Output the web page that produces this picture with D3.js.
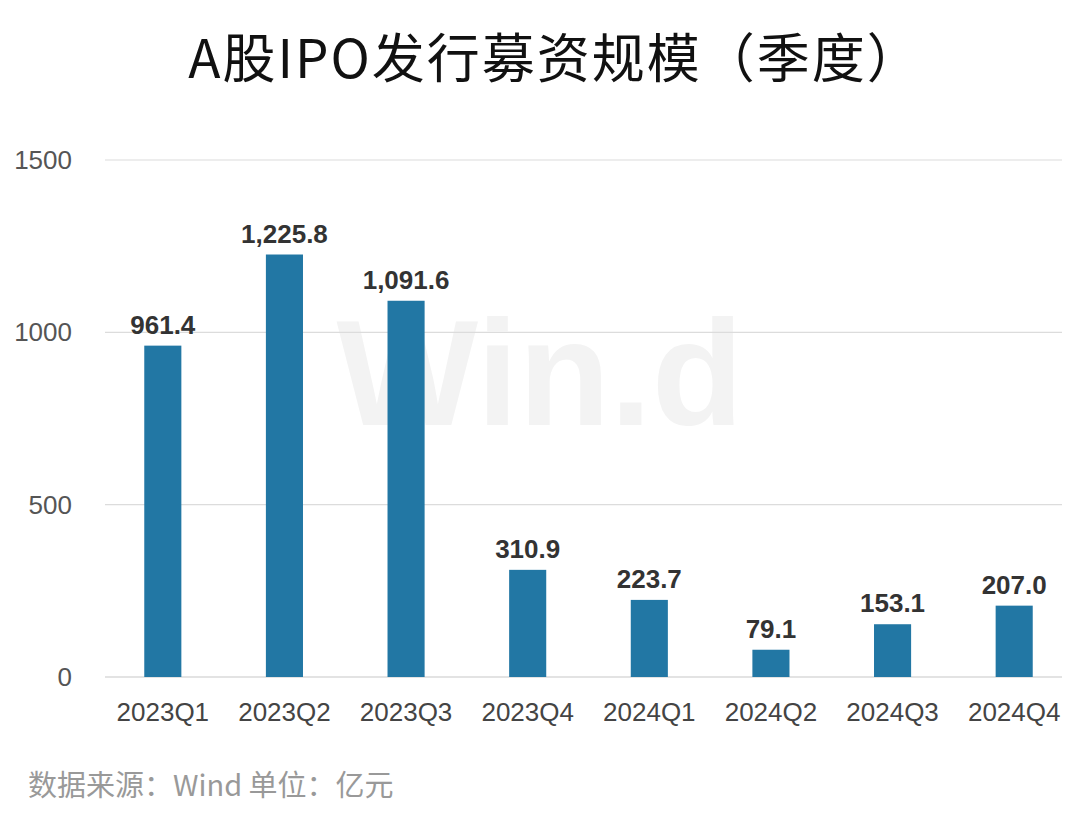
<!DOCTYPE html><html><head><meta charset="utf-8">
<script src="https://cdn.jsdelivr.net/npm/d3@7"></script>
<style>body{margin:0;background:#fff}</style></head><body>
<svg id="c" width="1080" height="832"></svg>
<script>
const categories=["2023Q1","2023Q2","2023Q3","2023Q4","2024Q1","2024Q2","2024Q3","2024Q4"];
const values=[961.4,1225.8,1091.6,310.9,223.7,79.1,153.1,207.0];
const yTicks=[0,500,1000,1500];
const svg=d3.select("#c");
const x=d3.scaleBand().domain(categories).range([102,1075]).paddingInner(0.695).paddingOuter(0.3475);
const y=d3.scaleLinear().domain([0,1500]).range([677,160]);
svg.append("text").attr("x",555).attr("y",78).attr("text-anchor","middle").attr("letter-spacing",2)
 .attr("font-family","Noto Sans CJK SC").attr("font-size",53).attr("fill","#111").text("A股IPO发行募资规模（季度）");
svg.append("text").attr("x",540).attr("y",425).attr("text-anchor","middle")
 .attr("font-family","Liberation Sans").attr("font-weight","bold").attr("font-size",150).attr("fill","#f3f3f3").text("Win.d");
svg.selectAll(".g").data(yTicks).join("line").attr("x1",105).attr("x2",1062)
 .attr("y1",d=>y(d)).attr("y2",d=>y(d)).attr("stroke",d=>d===0?"#c8c8c8":"#dcdcdc").attr("stroke-width",1.2);
svg.selectAll(".yt").data(yTicks).join("text").attr("x",72).attr("y",d=>y(d)+9).attr("text-anchor","end")
 .attr("font-family","Liberation Sans").attr("font-size",26).attr("fill","#555").text(d=>d);
svg.selectAll(".b").data(values).join("rect").attr("x",(d,i)=>x(categories[i])).attr("width",x.bandwidth())
 .attr("y",d=>y(d)).attr("height",d=>y(0)-y(d)).attr("fill","#2277a4");
svg.selectAll(".v").data(values).join("text").attr("x",(d,i)=>x(categories[i])+x.bandwidth()/2).attr("y",d=>y(d)-12)
 .attr("text-anchor","middle").attr("font-family","Liberation Sans").attr("font-weight","bold").attr("font-size",26).attr("fill","#333")
 .text(d=>d3.format(",.1f")(d));
svg.selectAll(".xt").data(categories).join("text").attr("x",d=>x(d)+x.bandwidth()/2).attr("y",721)
 .attr("text-anchor","middle").attr("font-family","Liberation Sans").attr("font-size",26).attr("fill","#444").text(d=>d);
svg.append("text").attr("x",28).attr("y",796).attr("font-family","Noto Sans CJK SC").attr("font-size",29).attr("fill","#999")
 .text("数据来源：Wind 单位：亿元");
</script></body></html>
